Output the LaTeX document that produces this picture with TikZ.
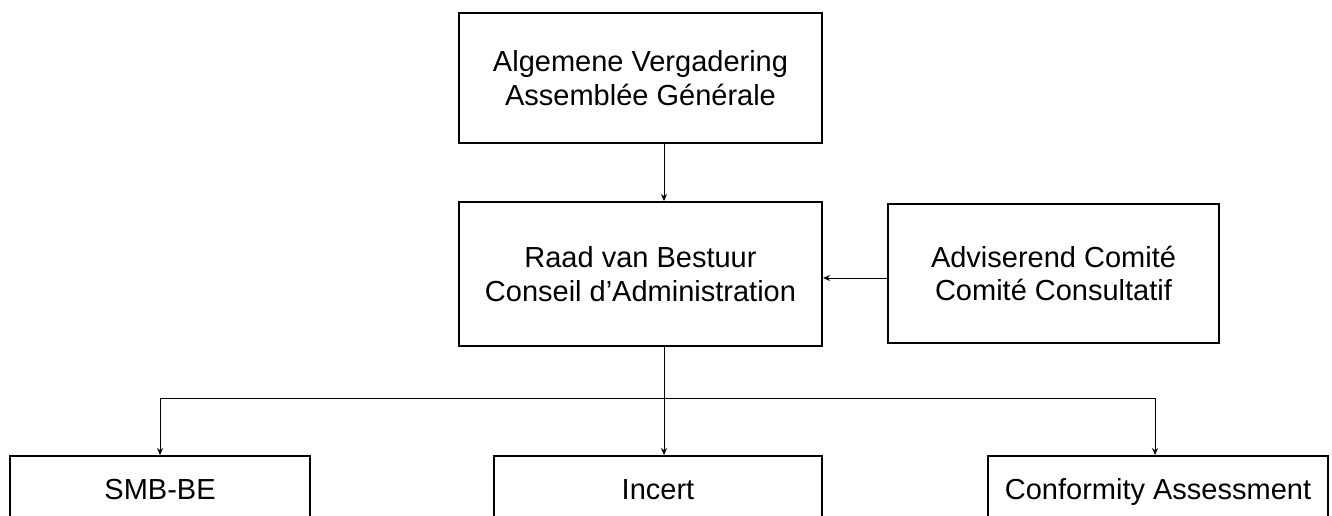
\documentclass[tikz,border=0pt]{standalone}
\usepackage{fontspec}
\setmainfont{Liberation Sans}
\usetikzlibrary{arrows.meta}

\tikzset{
  orgbox/.style={draw, line width=2pt, align=center, inner sep=0pt,
    font=\fontsize{29}{33.5}\selectfont},
  unitbox/.style={orgbox, minimum height=71, text height=21pt, text depth=6pt},
  link/.style={line width=1pt, -{Stealth[length=7pt,width=6pt]}}
}

\begin{document}
\begin{tikzpicture}[x=1pt,y=-1pt]
      \clip (0,0) rectangle (1332,516);
      % top and middle row
      \node[orgbox, minimum width=363, minimum height=130] (av) at (640.5,78)
        {Algemene Vergadering\\Assemblée Générale};
      \node[orgbox, minimum width=363, minimum height=144] (rvb) at (640.5,274)
        {Raad van Bestuur\\Conseil d’Administration};
      \node[orgbox, minimum width=331, minimum height=139] (ac) at (1053.5,273.5)
        {Adviserend Comité\\Comité Consultatif};
      % bottom row (cut off by the page)
      \node[unitbox, minimum width=300] (smb) at (160,491.5) {SMB-BE};
      \node[unitbox, minimum width=328] (inc) at (658,491.5) {Incert};
      \node[unitbox, minimum width=340] (conf) at (1158,491.5) {Conformity Assessment};
      \coordinate (bus) at (664,398);
      % connectors
      \draw[link] (av.south -| bus) -- (rvb.north -| bus);
      \draw[link] ([yshift=-4.5]ac.west) -- ([yshift=-4.5]ac.west -| rvb.east);
      \draw[link] (rvb.south -| bus) -- (inc.north -| bus);
      \draw[link] (bus) -| (smb.north);
      \draw[link] (bus) -| ([xshift=-3]conf.north);
\end{tikzpicture}
\end{document}
